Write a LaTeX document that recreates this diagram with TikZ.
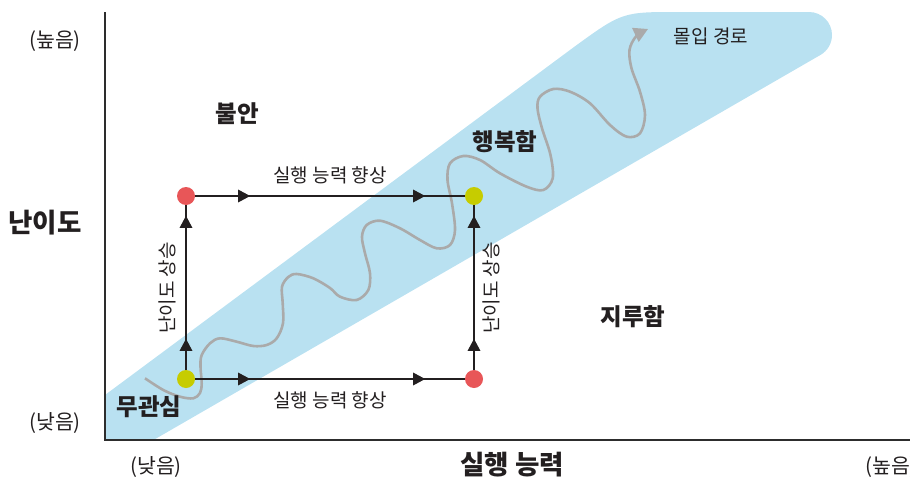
\documentclass[tikz,border=0pt]{standalone}
\usepackage{fontspec}
\setmainfont{Noto Sans CJK KR}
\usetikzlibrary{arrows.meta,decorations.markings}
\definecolor{band}{RGB}{185,225,241}
\definecolor{axisc}{RGB}{45,45,45}
\definecolor{txt}{RGB}{35,31,32}
\definecolor{wave}{RGB}{170,170,170}
\definecolor{dotred}{RGB}{232,86,88}
\definecolor{dotyel}{RGB}{198,204,0}
\tikzset{
  x=1pt,y=1pt,
  dotr/.style={circle,fill=dotred,inner sep=0pt,minimum size=18pt},
  doty/.style={circle,fill=dotyel,inner sep=0pt,minimum size=18pt},
  hpath/.style={draw=txt,line width=1.3pt,postaction={decorate},decoration={markings,
     mark=at position 55pt with {\arrow{Triangle[length=12pt,width=12.5pt]}},
     mark=at position 230pt with {\arrow{Triangle[length=12pt,width=12.5pt]}}}},
  vpath/.style={draw=txt,line width=1.3pt,postaction={decorate},decoration={markings,
     mark=at position 31pt with {\arrow{Triangle[length=12pt,width=12.5pt]}},
     mark=at position 154pt with {\arrow{Triangle[length=12pt,width=12.5pt]}}}},
  lbl/.style={text=txt,font=\fontsize{19}{22}\selectfont,inner sep=0pt},
  zone/.style={text=txt,font=\fontsize{23.5}{26}\selectfont\bfseries,inner sep=0pt},
  big/.style={text=txt,font=\fontsize{26.5}{30}\selectfont\bfseries,inner sep=0pt},
  tick/.style={text=txt,font=\fontsize{20.5}{24}\selectfont,inner sep=0pt},
}
\begin{document}
\begin{tikzpicture}
\useasboundingbox (0,0) rectangle (910,-479);
% flow band
\fill[band] (105,-395) -- (572,-48.5) .. controls (622,-12) .. (678,-12) -- (809,-12)
  arc[start angle=90,end angle=-60,radius=23] -- (153.5,-440) -- (105,-440) -- cycle;
% axes
\draw[axisc,line width=1.8pt] (105,-12) -- (105,-440) -- (912,-440);
% wave (flow path)
\draw[wave,line width=2.6pt,-{Triangle[length=14pt,width=15pt]}] plot[smooth,tension=0.55] coordinates {
 (145,-378.3) (163.3,-390) (180,-396.7) (193.3,-398.3) (200,-393) (201.7,-383.3) (200.5,-366.7)
 (201.7,-355) (210,-343.3) (220,-338.3) (236.7,-341.7) (253.3,-346) (266.7,-345) (276.7,-338.3)
 (283,-323.3) (282.7,-303.3) (282,-286.7) (288.3,-277) (296.7,-274) (313.3,-278.3) (330,-288)
 (340,-296.7) (356.7,-300) (368.3,-290) (370,-273.3) (365,-253.3) (362,-236.7) (366.7,-225)
 (380,-220.7) (400,-228.3) (420,-240) (436.7,-248.3) (450,-245) (455,-230) (452,-203.3)
 (447.5,-180) (450,-163.3) (463.3,-156) (480,-160) (500,-173.3) (526.7,-186.7) (543.3,-190)
 (552.7,-178.3) (550.5,-155) (542,-128.3) (537.5,-108.3) (540,-96.7) (553.3,-89) (570,-91.7)
 (590,-103.3) (610,-125) (626.7,-136.7) (640,-133.3) (645,-115) (640,-91.7) (631.5,-68.3)
 (629.5,-50) (636,-36.5) (648,-29)};
% points
\node[dotr] (tl) at (186,-196) {};
\node[doty] (tr) at (474,-196) {};
\node[doty] (bl) at (186,-379) {};
\node[dotr] (br) at (474,-379) {};
\path[hpath] (tl) -- (tr);
\path[hpath] (bl) -- (br);
\path[vpath] (bl) -- (tl);
\path[vpath] (br) -- (tr);
% labels on the path
\node[lbl] (lt) at (330,-175) {실행 능력 향상};
\node[lbl] (lb) at (330,-400) {실행 능력 향상};
\node[lbl,rotate=90] (ll) at (167,-288) {난이도 상승};
\node[lbl,rotate=90] (lr) at (491.5,-288) {난이도 상승};
\node[lbl] (flow) at (711,-36) {몰입 경로};
% zones
\node[zone] (anx) at (237,-114) {불안};
\node[zone] (hap) at (505,-142) {행복함};
\node[zone] (bor) at (633,-317) {지루함};
\node[zone] (apa) at (149,-407) {무관심};
% axes titles
\node[big] (ylab) at (45,-223) {난이도};
\node[big] (xlab) at (512,-465) {실행 능력};
\node[tick] (yhi) at (55,-41) {(높음)};
\node[tick] (ylo) at (55,-423) {(낮음)};
\node[tick] (xlo) at (156,-467) {(낮음)};
\node[tick,anchor=west] (xhi) at (865,-467) {(높음)};
\end{tikzpicture}
\end{document}
